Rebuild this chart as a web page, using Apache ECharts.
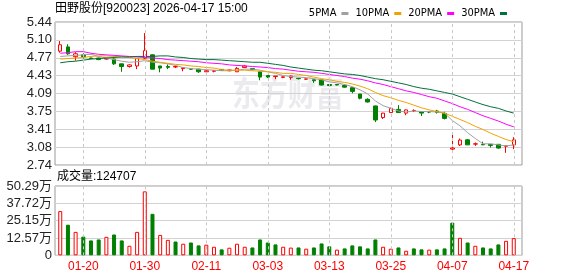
<!DOCTYPE html>
<html><head><meta charset="utf-8">
<script src="https://cdn.jsdelivr.net/npm/echarts@6/dist/echarts.min.js"></script>
<style>html,body{margin:0;padding:0;background:#fff}#c{width:578px;height:276px}</style>
</head><body><div id="c"></div>
<script>
const dates = ['01-15','01-16','01-19','01-20','01-21','01-22','01-23','01-26','01-27','01-28',
'01-29','01-30','02-02','02-03','02-04','02-05','02-06','02-09','02-10','02-11',
'02-12','02-13','02-24','02-25','02-26','02-27','03-02','03-03','03-04','03-05',
'03-06','03-09','03-10','03-11','03-12','03-13','03-16','03-17','03-18','03-19',
'03-20','03-23','03-24','03-25','03-26','03-27','03-30','03-31','04-01','04-02',
'04-03','04-07','04-08','04-09','04-10','04-13','04-14','04-15','04-16','04-17'];
const xTickLabels = ['01-20','01-30','02-11','03-03','03-13','03-25','04-07','04-17'];
const yLabels = ['2.74','3.08','3.41','3.75','4.09','4.43','4.77','5.10','5.44'];
const volLabels = ['0','12.57万','25.15万','37.72万','50.29万'];

const opens = [4.89,4.97,4.785,4.82,4.76,4.76,4.74,4.74,4.65,4.60,
4.61,4.755,4.82,4.61,4.60,4.59,4.56,4.55,4.55,4.50,
4.51,4.545,4.52,4.50,4.58,4.56,4.50,4.43,4.41,4.395,
4.39,4.377,4.36,4.35,4.345,4.26,4.26,4.245,4.20,4.08,
3.98,3.855,3.635,3.73,3.79,3.72,3.765,3.745,3.745,3.76,
3.715,3.04,3.12,3.215,3.135,3.13,3.13,3.13,3.095,3.12];
const closes = [5.01,4.84,4.84,4.785,4.75,4.73,4.755,4.65,4.60,4.63,
4.75,4.90,4.55,4.57,4.585,4.60,4.575,4.55,4.50,4.52,
4.52,4.53,4.535,4.565,4.61,4.54,4.40,4.40,4.42,4.405,
4.42,4.37,4.365,4.33,4.25,4.24,4.25,4.21,4.13,4.00,
3.93,3.59,3.72,3.81,3.73,3.78,3.77,3.72,3.74,3.735,
3.62,3.06,3.21,3.12,3.14,3.12,3.11,3.06,3.10,3.215];
const lows = [4.86,4.82,4.71,4.75,4.74,4.72,4.73,4.63,4.50,4.58,
4.55,4.74,4.545,4.49,4.55,4.57,4.51,4.54,4.48,4.49,
4.49,4.52,4.51,4.50,4.57,4.53,4.34,4.38,4.36,4.38,
4.35,4.355,4.355,4.29,4.24,4.22,4.245,4.20,4.095,3.98,
3.92,3.55,3.61,3.73,3.725,3.68,3.74,3.665,3.72,3.71,
3.60,3.02,3.10,3.12,3.10,3.12,3.07,3.05,2.97,3.04];
const highs = [5.08,5.02,4.87,4.85,4.765,4.765,4.76,4.75,4.65,4.64,
4.76,5.23,4.83,4.61,4.64,4.62,4.58,4.56,4.55,4.53,
4.53,4.55,4.54,4.59,4.63,4.57,4.51,4.44,4.42,4.41,
4.43,4.38,4.37,4.35,4.35,4.27,4.27,4.26,4.205,4.08,
4.00,3.86,3.725,3.82,3.87,3.785,3.79,3.745,3.76,3.78,
3.745,3.33,3.24,3.23,3.165,3.18,3.13,3.13,3.10,3.265];

const ma5 = [4.79,4.80,4.81,4.82,4.83,4.79,4.76,4.73,4.70,4.68,
4.69,4.71,4.68,4.67,4.65,4.62,4.58,4.56,4.55,4.54,
4.53,4.52,4.52,4.53,4.55,4.55,4.53,4.50,4.47,4.43,
4.41,4.40,4.39,4.37,4.35,4.31,4.29,4.26,4.22,4.16,
4.08,3.95,3.86,3.81,3.76,3.74,3.76,3.75,3.75,3.74,
3.72,3.58,3.48,3.35,3.24,3.14,3.14,3.12,3.10,3.12];
const ma10 = [4.74,4.75,4.76,4.77,4.79,4.80,4.80,4.79,4.78,4.77,
4.75,4.73,4.70,4.68,4.66,4.64,4.63,4.61,4.60,4.58,
4.57,4.54,4.53,4.53,4.53,4.52,4.51,4.50,4.49,4.47,
4.47,4.45,4.43,4.40,4.37,4.35,4.32,4.30,4.27,4.23,
4.18,4.11,4.05,4.01,3.96,3.92,3.87,3.82,3.78,3.75,
3.72,3.66,3.60,3.54,3.47,3.41,3.34,3.28,3.22,3.18];
const ma20 = [4.85,4.86,4.88,4.88,4.85,4.83,4.82,4.81,4.80,4.79,
4.78,4.77,4.76,4.75,4.73,4.72,4.71,4.70,4.69,4.67,
4.66,4.65,4.63,4.62,4.61,4.60,4.59,4.58,4.56,4.55,
4.53,4.51,4.50,4.49,4.47,4.45,4.43,4.41,4.38,4.36,
4.33,4.29,4.26,4.22,4.18,4.14,4.11,4.07,4.03,4.00,
3.95,3.90,3.84,3.79,3.73,3.67,3.62,3.57,3.51,3.46];
const ma30 = [4.67,4.69,4.70,4.72,4.74,4.75,4.76,4.77,4.78,4.78,
4.79,4.79,4.79,4.80,4.80,4.78,4.77,4.75,4.74,4.73,
4.73,4.72,4.71,4.70,4.69,4.68,4.68,4.66,4.64,4.62,
4.59,4.57,4.55,4.53,4.52,4.50,4.48,4.46,4.45,4.43,
4.40,4.37,4.35,4.32,4.29,4.26,4.22,4.19,4.17,4.14,
4.11,4.08,4.03,3.98,3.93,3.88,3.84,3.81,3.76,3.72];

const vols = [321000,222000,170000,136000,108000,115000,134000,151000,108000,69000,
170000,464000,301000,148000,112000,100000,84000,93000,72000,77000,
62000,43000,55000,84000,62000,57000,115000,93000,79000,62000,
56000,57000,48000,57000,86000,65000,41000,50000,72000,65000,
50000,115000,62000,48000,57000,33000,50000,43000,41000,43000,
50000,237000,127000,93000,69000,57000,50000,79000,105000,124707];
const volUp = [1,0,1,0,0,0,1,0,0,1,
1,1,0,1,1,0,1,0,0,1,
1,0,1,1,1,0,0,0,0,1,
1,0,1,0,0,0,1,0,0,0,
0,0,1,1,0,1,0,0,1,0,
0,0,1,0,1,0,0,0,1,1];

const RED = '#ff0000', GREEN = '#008000';
const FONT = '"Liberation Sans", Arial, "Noto Sans CJK SC", sans-serif';
const chart = echarts.init(document.getElementById('c'));
const candleData = opens.map((o, i) => [o, closes[i], lows[i], highs[i]]);
const volData = vols.map((v, i) => ({
  value: v,
  itemStyle: volUp[i] ? {color: '#ffffff', borderColor: RED, borderWidth: 1}
                      : {color: GREEN, borderColor: GREEN, borderWidth: 1}
}));
const vline = () => ({
  symbol: ['none', 'none'], silent: true, animation: false,
  label: {show: false},
  lineStyle: {color: '#c8c8c8', type: [3, 3], width: 1},
  data: xTickLabels.map(d => ({xAxis: d}))
});
const maLine = (name, data, color) => ({
  name, type: 'line', data, xAxisIndex: 1, yAxisIndex: 1,
  symbol: 'none', smooth: false, lineStyle: {width: 1, color}, itemStyle: {color}, z: 3
});
const labelStyle = {color: '#222', fontSize: 13, fontFamily: FONT, margin: 3};

chart.setOption({
  animation: false,
  legend: {
    data: ['5PMA', '10PMA', '20PMA', '30PMA'], right: 66, top: 3, align: 'right',
    icon: 'rect', itemWidth: 7, itemHeight: 3, itemGap: 7, selectedMode: false,
    textStyle: {fontSize: 11, color: '#000', fontFamily: '"Liberation Sans Narrow", "DejaVu Sans Condensed", ' + FONT}
  },
  graphic: [
    {type: 'text', x: 55, y: 3, style: {text: '田野股份[920023] 2026-04-17 15:00', font: '12px ' + FONT, fill: '#000', verticalAlign: 'top'}},
    {type: 'text', x: 57, y: 171, style: {text: '成交量:' + vols[vols.length - 1], font: '12px ' + FONT, fill: '#000', verticalAlign: 'top'}},
    {type: 'text', x: 232, y: 76, scaleX: 0.82, z: -1, silent: true,
     style: {text: '东方财富', font: 'bold 34px "Noto Sans CJK SC"', fill: '#ebebef', verticalAlign: 'top'}}
  ],
  grid: [
    {left: 55, top: 22, width: 467, height: 143, show: true, borderColor: '#9a9a9a', borderWidth: 1},
    {left: 56.4, top: 22, width: 461.2, height: 143},
    {left: 55, top: 186, width: 467, height: 69.3, show: true, borderColor: '#9a9a9a', borderWidth: 1},
    {left: 56.4, top: 186, width: 461.2, height: 69.3}
  ],
  xAxis: [
    {gridIndex: 0, type: 'value', min: 0, max: 1, show: false},
    {gridIndex: 1, type: 'category', data: dates, boundaryGap: true, show: false},
    {gridIndex: 2, type: 'value', min: 0, max: 1, show: false},
    {gridIndex: 3, type: 'category', data: dates, boundaryGap: true,
     axisLine: {show: false}, axisTick: {show: false}, splitLine: {show: false},
     axisLabel: {interval: (i, v) => xTickLabels.includes(v), color: RED, fontSize: 12, fontFamily: FONT, margin: 5}}
  ],
  yAxis: [
    {gridIndex: 0, type: 'value', min: 0, max: 8, interval: 1,
     axisLine: {show: false}, axisTick: {show: false},
     axisLabel: Object.assign({formatter: v => yLabels[v]}, labelStyle),
     splitLine: {lineStyle: {color: '#d2d2d2', width: 1}}},
    {gridIndex: 1, type: 'value', min: 2.74, max: 5.44, show: false, splitLine: {show: false}},
    {gridIndex: 2, type: 'value', min: 0, max: 4, interval: 1,
     axisLine: {show: false}, axisTick: {show: false},
     axisLabel: Object.assign({formatter: v => volLabels[v]}, labelStyle),
     splitLine: {lineStyle: {color: '#d2d2d2', width: 1}}},
    {gridIndex: 3, type: 'value', min: 0, max: 502900, show: false, splitLine: {show: false}}
  ],
  series: [
    {type: 'candlestick', name: 'K', data: candleData, xAxisIndex: 1, yAxisIndex: 1, barWidth: 4,
     itemStyle: {color: '#ffffff', color0: GREEN, borderColor: RED, borderColor0: GREEN, borderWidth: 1},
     markLine: vline(), z: 2},
    maLine('5PMA', ma5, '#a0a0a0'),
    maLine('10PMA', ma10, '#f2a200'),
    maLine('20PMA', ma20, '#ff00ff'),
    maLine('30PMA', ma30, '#00703c'),
    {type: 'bar', name: 'VOL', data: volData, xAxisIndex: 3, yAxisIndex: 3, barWidth: 4, markLine: vline()}
  ]
});
</script></body></html>
